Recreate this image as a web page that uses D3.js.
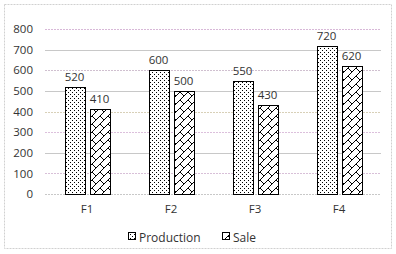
<!DOCTYPE html>
<html><head><meta charset="utf-8">
<script src="https://cdn.jsdelivr.net/npm/d3@7"></script>
<style>body{margin:0;background:#fff}svg{display:block}</style>
</head><body>
<script>
const categories = ["F1","F2","F3","F4"];
const production = [520,600,550,720];
const sale = [410,500,430,620];
const seriesNames = ["Production","Sale"];
const yTicks = [0,100,200,300,400,500,600,700,800];

const W=396,H=254;
const svg=d3.select("body").append("svg").attr("width",W).attr("height",H);
const defs=svg.append("defs");
const pd=defs.append("pattern").attr("id","dots").attr("patternUnits","userSpaceOnUse").attr("width",4).attr("height",4);
pd.append("rect").attr("width",4).attr("height",4).attr("fill","#fff");
pd.append("rect").attr("x",0).attr("y",0).attr("width",1).attr("height",1).attr("fill","#000");
pd.append("rect").attr("x",2).attr("y",2).attr("width",1).attr("height",1).attr("fill","#000");
const pb=defs.append("pattern").attr("id","brick").attr("patternUnits","userSpaceOnUse").attr("width",8).attr("height",8);
pb.append("rect").attr("width",8).attr("height",8).attr("fill","#fff");
pb.append("path").attr("d","M-1,9 L9,-1 M4,4 L8,8 M0,0 L-1,-1").attr("stroke","#000").attr("stroke-width",1).attr("fill","none");

svg.append("rect").attr("x",4.5).attr("y",4.5).attr("width",387).attr("height",244)
  .attr("fill","#fff").attr("stroke","#d0d0d0").attr("stroke-dasharray","2,1");

const x=d3.scaleBand().domain(categories).range([45,381]);
const y=d3.scaleLinear().domain([0,800]).range([194,29]);

const gridStyles={0:["#c8c8c8","2,1"],100:["#d8c0d8","2,1"],200:["#c8c8c8",null],300:["#dcc0dc","2,1"],400:["#d8d0b8","2,1"],500:["#c8c8c8",null],600:["#d0c0d0","2,1"],700:["#c8c8c8",null],800:["#d8b8d8","2,1"]};
const g=svg.append("g");
g.selectAll("line.grid").data(yTicks).join("line")
  .attr("x1",45).attr("x2",381).attr("y1",d=>Math.round(y(d))+0.5).attr("y2",d=>Math.round(y(d))+0.5)
  .attr("stroke",d=>gridStyles[d][0]).attr("stroke-dasharray",d=>gridStyles[d][1]);

const FONT="Open Sans, sans-serif", TXT="#333";
const yAxis=d3.axisLeft(y).tickValues(yTicks).tickSize(0).tickPadding(0);
const ya=svg.append("g").attr("transform","translate(33,0)").call(yAxis);
ya.select(".domain").remove();
ya.selectAll("text").attr("font-family",FONT).attr("font-size",11.5).attr("fill",TXT);

const xAxis=d3.axisBottom(x).tickSize(0).tickPadding(0);
const xa=svg.append("g").attr("transform","translate(0,205)").call(xAxis);
xa.select(".domain").remove();
xa.selectAll("text").attr("font-family",FONT).attr("font-size",11.5).attr("fill",TXT);

const bw=20,gap=5;
const series=[production,sale];
const fills=["url(#dots)","url(#brick)"];
series.forEach((vals,si)=>{
  const off=-(bw*2+gap)/2+si*(bw+gap);
  svg.append("g").selectAll("rect").data(vals).join("rect")
    .attr("x",(d,i)=>Math.round(x(categories[i])+x.bandwidth()/2+off)+0.5)
    .attr("y",d=>Math.round(y(d))+0.5)
    .attr("width",bw).attr("height",d=>Math.round(y(0))-Math.round(y(d)))
    .attr("fill",fills[si]).attr("stroke","#000").attr("stroke-width",1);
  svg.append("g").selectAll("text").data(vals).join("text")
    .attr("x",(d,i)=>x(categories[i])+x.bandwidth()/2+off+bw/2)
    .attr("y",d=>y(d)-6)
    .attr("text-anchor","middle").attr("font-family",FONT).attr("font-size",11.5).attr("fill",TXT)
    .text(d=>d);
});

const leg=svg.append("g");
const legX=[128,222];
seriesNames.forEach((n,i)=>{
  leg.append("rect").attr("x",legX[i]+0.5).attr("y",232.5).attr("width",7).attr("height",7)
    .attr("fill",fills[i]).attr("stroke","#000");
  leg.append("text").attr("x",legX[i]+11).attr("y",241.5).attr("font-family",FONT)
    .attr("font-size",12).attr("fill",TXT).text(n);
});
</script>
</body></html>
